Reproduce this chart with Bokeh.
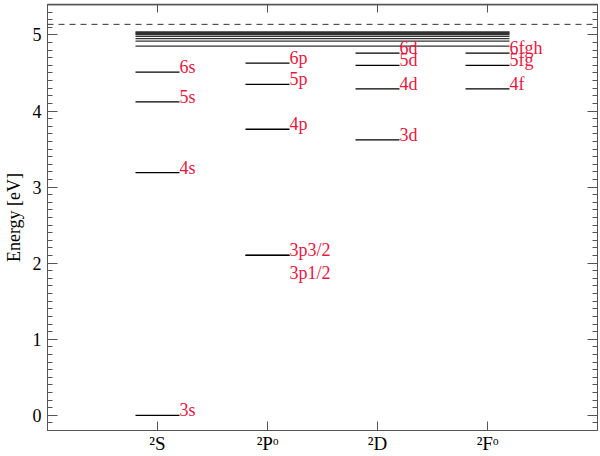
from bokeh.plotting import figure
from bokeh.models import (LinearAxis, FixedTicker, SingleIntervalTicker, Range1d,
                          Span, ColumnDataSource, CustomLabelingPolicy)
from bokeh.core.properties import value
from bokeh.embed import file_html
from bokeh.resources import INLINE

# ---- data -------------------------------------------------------------
terms = ["²S", "²Pᵒ", "²D", "²Fᵒ"]
term_pos = [1, 2, 3, 4]

level_names = ["3s", "4s", "5s", "6s",
               "3p3/2", "3p1/2", "4p", "5p", "6p",
               "3d", "4d", "5d", "6d",
               "4f", "5fg", "6fgh"]
level_col = [1, 1, 1, 1,
             2, 2, 2, 2, 2,
             3, 3, 3, 3,
             4, 4, 4]
level_energy = [0.00, 3.19, 4.12, 4.51,
                2.104, 2.102, 3.76, 4.35, 4.63,
                3.62, 4.29, 4.60, 4.76,
                4.29, 4.60, 4.76]

high_energy = [4.852, 4.918, 4.952, 4.982, 5.003, 5.018, 5.030, 5.040]
ionization = 5.139

# ---- styling ----------------------------------------------------------
SERIF = "Liberation Serif"
RED = "#e8173f"
AX = "#555555"
half = 0.2

p = figure(width=600, height=456, output_backend="svg", toolbar_location=None,
           x_range=Range1d(0, 5), y_range=Range1d(-0.2, 5.4),
           min_border_left=47, min_border_right=3, min_border_top=4,
           min_border_bottom=0)
p.xgrid.visible = False
p.ygrid.visible = False
p.outline_line_color = AX
p.outline_line_width = 1
p.background_fill_color = "white"
p.border_fill_color = "white"

# levels
src = ColumnDataSource(dict(
    x0=[c - half for c in level_col],
    x1=[c + half for c in level_col],
    y=level_energy,
    name=level_names,
    ly=[e - 0.3 if n == "3p1/2" else e for n, e in zip(level_names, level_energy)],
))
p.segment(x0="x0", x1="x1", y0="y", y1="y", source=src,
          line_color="black", line_width=1.3)

# high-lying levels spanning all columns
hsrc = ColumnDataSource(dict(
    x0=[term_pos[0] - half] * len(high_energy),
    x1=[term_pos[-1] + half] * len(high_energy),
    y=high_energy,
))
p.segment(x0="x0", x1="x1", y0="y", y1="y", source=hsrc,
          line_color="#333333", line_width=1.3)

# ionization limit
p.add_layout(Span(location=ionization, dimension="width", line_color="#333333",
                  line_width=1, line_dash="6 5"))

# top edge of the frame
p.add_layout(Span(location=p.y_range.end, dimension="width", line_color=AX,
                  line_width=1.5))

# labels
p.text(x="x1", y="ly", text="name", source=src,
       text_font=value(SERIF), text_font_size="18px", text_color=RED,
       text_align="left", text_baseline="alphabetic", y_offset=-5)

# ---- axes -------------------------------------------------------------
def style(ax):
    ax.axis_line_color = AX
    ax.major_tick_line_color = AX
    ax.minor_tick_line_color = AX
    ax.major_tick_out = 0
    ax.minor_tick_out = 0
    ax.major_label_text_font = SERIF
    ax.major_label_text_color = "black"
    ax.major_label_text_font_size = "18px"

no_labels = CustomLabelingPolicy(code="return new indices.constructor(indices.size)")

xa = p.xaxis[0]
xa.ticker = FixedTicker(ticks=term_pos)
xa.major_label_overrides = {t: s for t, s in zip(term_pos, terms)}
style(xa)
xa.major_label_text_font_size = "19px"
xa.major_tick_in = 9
xa.major_label_standoff = 2

ya = p.yaxis[0]
ya.ticker = SingleIntervalTicker(interval=1, num_minor_ticks=10)
style(ya)
ya.major_tick_in = 10
ya.minor_tick_in = 5
ya.major_label_standoff = 6
ya.axis_label = "Energy [eV]"
ya.axis_label_text_font = SERIF
ya.axis_label_text_font_style = "normal"
ya.axis_label_text_font_size = "18px"
ya.axis_label_text_color = "black"
ya.axis_label_standoff = 6

top = LinearAxis(ticker=FixedTicker(ticks=term_pos))
style(top)
top.major_tick_in = 8
top.axis_line_width = 1.5
top.major_label_text_font_size = "0px"
top.major_label_standoff = 0
top.major_label_policy = no_labels
p.add_layout(top, "above")

right = LinearAxis(ticker=SingleIntervalTicker(interval=1, num_minor_ticks=10))
style(right)
right.major_tick_in = 10
right.minor_tick_in = 5
right.major_label_text_font_size = "0px"
right.major_label_standoff = 0
right.major_label_policy = no_labels
p.add_layout(right, "right")

open("out.html", "w").write(file_html(p, INLINE))
